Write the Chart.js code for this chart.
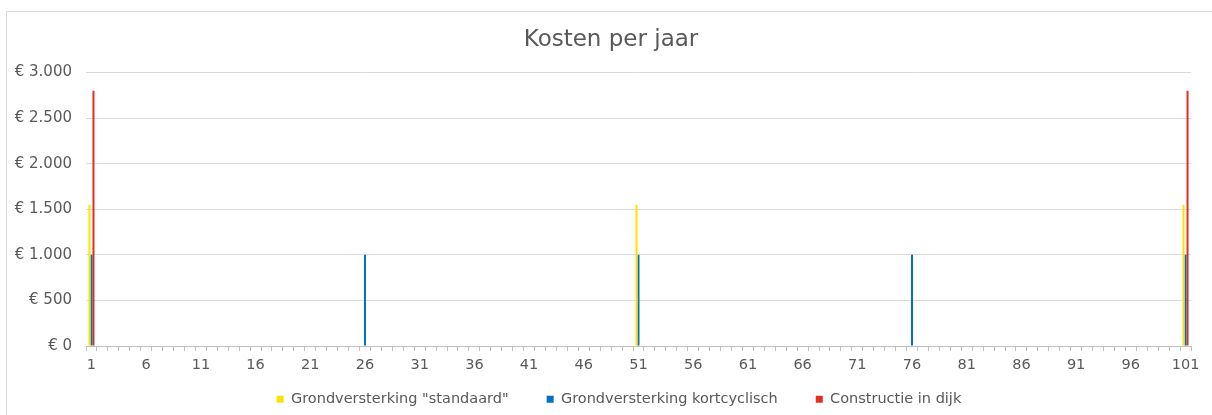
<!DOCTYPE html>
<html>
<head>
<meta charset="utf-8">
<script src="https://cdn.jsdelivr.net/npm/chart.js@4"></script>
<style>
    body { margin: 0; background: #fff; }
    #kader {
        position: absolute; left: 6px; top: 11px;
        width: 1230px; height: 430px;
        border: 1px solid #d9d9d9;
    }
    #wrap { position: absolute; left: 0; top: 0; width: 1212px; height: 415px; }
</style>
</head>
<body>
<div id="kader"></div>
<div id="wrap"><canvas id="kostenChart"></canvas></div>
<script>
// Jaren 1 t/m 101
const jaren = Array.from({ length: 101 }, (_, i) => String(i + 1));

// Kosten per maatregel (alleen de jaren met uitgaven)
const standaardJaren = [1, 51, 101];
const standaardKosten = [1550, 1550, 1550];

const kortcyclischJaren = [1, 26, 51, 76, 101];
const kortcyclischKosten = [1000, 1000, 1000, 1000, 1000];

const constructieJaren = [1, 101];
const constructieKosten = [2800, 2800];

const yTicks = [0, 500, 1000, 1500, 2000, 2500, 3000];

// zet de losse jaren om naar een reeks over alle jaren
function reeks(jr, kosten) {
    return jaren.map(j => {
        const idx = jr.indexOf(Number(j));
        return idx >= 0 ? kosten[idx] : null;
    });
}

const fontFamily = '"DejaVu Sans", Verdana, sans-serif';
const tekstKleur = '#595959';

// schuif een layout-blok bij het tekenen een stukje op
function schuif(box, dx, dy) {
    const draw = box.draw.bind(box);
    box.draw = function () {
        const t = this.top, l = this.left, r = this.right;
        this.top = t + dy;
        this.left = l + dx;
        this.right = r + dx;
        draw();
        this.top = t; this.left = l; this.right = r;
    };
}

// legenda compacter maken (padding geldt ook verticaal) en titel iets naar rechts
const blokPlek = {
    id: 'blokPlek',
    afterInit(chart) {
        const lg = chart.legend;
        const fit = lg.fit.bind(lg);
        lg.fit = function () { fit(); this.height = 33; };
        schuif(lg, 17, -28);
        schuif(chart.titleBlock, 9, 0);
    }
};

const data = {
    labels: jaren,
    datasets: [
        {
            label: 'Grondversterking "standaard"',
            data: reeks(standaardJaren, standaardKosten),
            backgroundColor: '#FFE100'
        },
        {
            label: 'Grondversterking kortcyclisch',
            data: reeks(kortcyclischJaren, kortcyclischKosten),
            backgroundColor: '#0070C0'
        },
        {
            label: 'Constructie in dijk',
            data: reeks(constructieJaren, constructieKosten),
            backgroundColor: '#E0301E'
        }
    ]
};

const options = {
    responsive: true,
    maintainAspectRatio: false,
    animation: false,
    datasets: {
        bar: { categoryPercentage: 0.55, barPercentage: 1.0 }
    },
    layout: { padding: { left: 13, right: 21, top: 0, bottom: 0 } },
    scales: {
        y: {
            min: 0,
            max: 3000,
            afterFit: s => { s.width = 73; },
            afterBuildTicks: s => { s.ticks = yTicks.map(v => ({ value: v })); },
            ticks: {
                padding: 14,
                color: tekstKleur,
                font: { family: fontFamily, size: 15 },
                callback: v => '€ ' + v.toLocaleString('nl-NL')
            },
            grid: { color: '#d9d9d9', drawTicks: false },
            border: { display: false }
        },
        x: {
            afterFit: s => { s.height = 36; },
            ticks: {
                autoSkip: false,
                maxRotation: 0,
                padding: 6,
                color: tekstKleur,
                font: { family: fontFamily, size: 14.5 },
                callback: (v, i) => (i % 5 === 0 ? jaren[i] : '')
            },
            grid: {
                drawOnChartArea: false,
                drawTicks: true,
                tickLength: 5,
                color: '#bfbfbf',
                offset: true
            },
            border: { color: '#bfbfbf' }
        }
    },
    plugins: {
        title: {
            display: true,
            text: 'Kosten per jaar',
            color: tekstKleur,
            font: { family: fontFamily, size: 23, weight: 'normal' },
            padding: { top: 26, bottom: 19 }
        },
        legend: {
            position: 'bottom',
            labels: {
                boxWidth: 7,
                boxHeight: 7,
                padding: 38,
                color: tekstKleur,
                font: { family: fontFamily, size: 14.5 }
            }
        },
        tooltip: { enabled: false }
    }
};

new Chart(document.getElementById('kostenChart').getContext('2d'), {
    type: 'bar',
    data: data,
    options: options,
    plugins: [blokPlek]
});
</script>
</body>
</html>
